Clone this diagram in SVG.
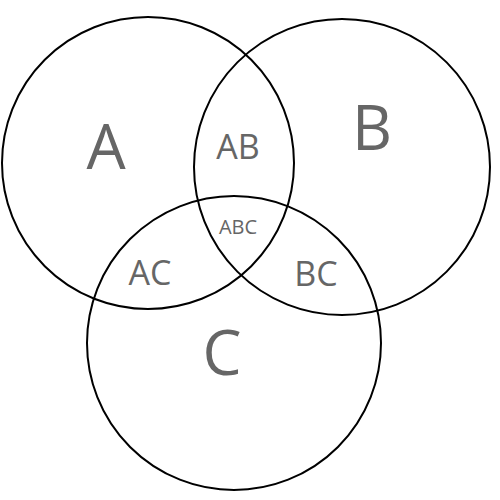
<svg xmlns="http://www.w3.org/2000/svg" width="500" height="500" viewBox="0 0 500 500">
<style>
circle{fill:none;stroke:#000;stroke-width:2}
text{font-family:"Open Sans",sans-serif;fill:#666;text-anchor:middle;dominant-baseline:central}
.big{font-size:62px}.mid{font-size:34px}.sm{font-size:20px}
</style>
<rect width="500" height="500" fill="#fff"/>
<g id="A"><circle cx="148" cy="163" r="146"/><text class="big" x="106" y="145">A</text></g>
<g id="B"><circle cx="342" cy="167" r="148"/><text class="big" x="372" y="126">B</text></g>
<g id="C"><circle cx="234" cy="343" r="147"/><text class="big" x="222" y="351">C</text></g>
<g id="AB"><text class="mid" x="238" y="146">AB</text></g>
<g id="ABC"><text class="sm" x="238" y="226">ABC</text></g>
<g id="AC"><text class="mid" x="150" y="272">AC</text></g>
<g id="BC"><text class="mid" x="316" y="273">BC</text></g>
<g id="connectors"/>
</svg>
